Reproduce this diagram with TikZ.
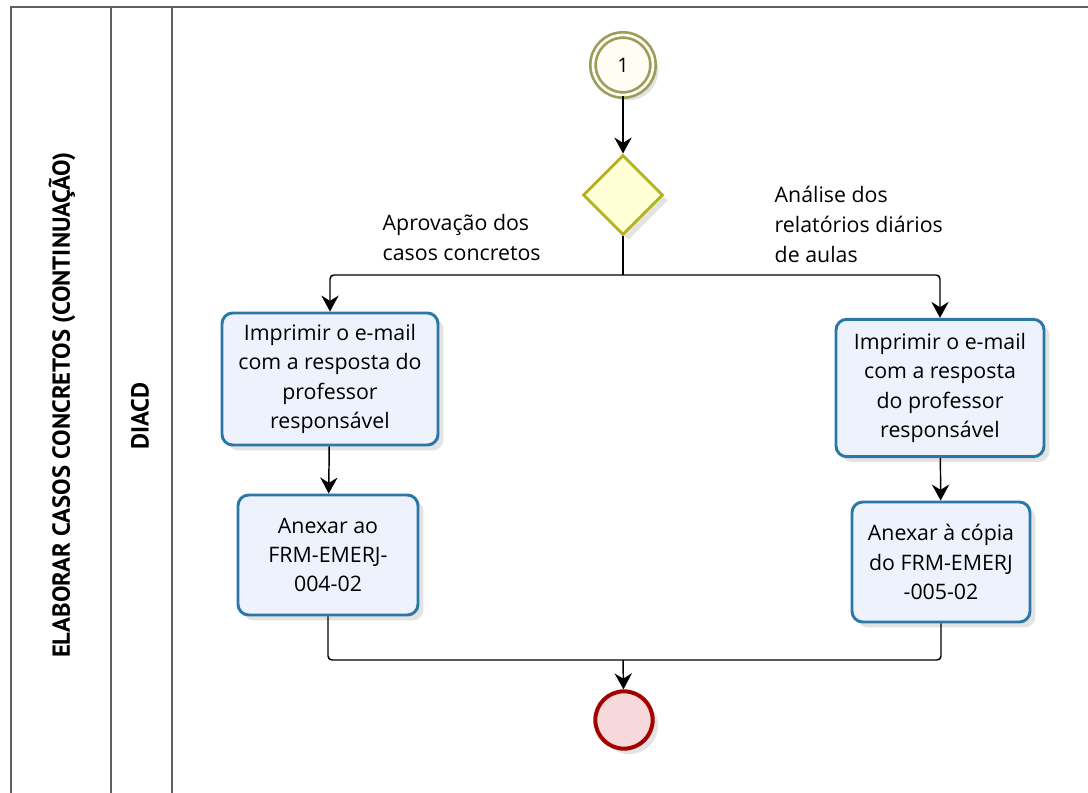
\documentclass[tikz,border=0pt]{standalone}
\usepackage{fontspec}
\setmainfont{Open Sans}
\newfontfamily\lanefont{PT Sans}
\usetikzlibrary{arrows.meta,shadows,shapes.geometric}
\definecolor{taskblue}{HTML}{2B78A6}
\definecolor{taskfill}{HTML}{EEF2FC}
\definecolor{gwline}{HTML}{B3B320}
\definecolor{gwfill}{HTML}{FFFFD6}
\definecolor{evline}{HTML}{9C9C5C}
\definecolor{evfill}{HTML}{FFFDF4}
\definecolor{endline}{HTML}{A30000}
\definecolor{endfill}{HTML}{F7D9DB}
\definecolor{laneline}{HTML}{606060}
\begin{document}
\begin{tikzpicture}[x=0.75pt,y=-0.75pt,
  shadowed/.style={drop shadow={opacity=0.22,shadow xshift=4pt,shadow yshift=-4pt}},
  task/.style={draw=taskblue,line width=2.2pt,rounded corners=8pt,fill=taskfill,align=center,
     font=\fontsize{16}{22}\selectfont,inner sep=2pt,shadowed},
  gateway/.style={diamond,draw=gwline,line width=2.2pt,fill=gwfill,minimum width=60pt,minimum height=60pt,inner sep=0pt,shadowed},
  startev/.style={circle,draw=evline,line width=2pt,fill=evfill,minimum size=45pt,inner sep=0pt,double=evfill,double distance=2pt,shadowed},
  endev/.style={circle,draw=endline,line width=3pt,fill=endfill,minimum size=43pt,inner sep=0pt,shadowed},
  flow/.style={line width=1.1pt,black,rounded corners=3pt},
  arr/.style={flow,-{Stealth[length=12pt,width=13pt,inset=4pt]}},
  lbl/.style={align=left,anchor=north west,font=\fontsize{16}{22.5}\selectfont},
  lane/.style={draw=laneline,line width=1.4pt}
]
\useasboundingbox (0,0) rectangle (1088,792);
% lanes
\draw[lane] (11,800) -- (11,7) -- (1095,7);
\draw[lane] (111,7) -- (111,800);
\draw[lane] (172,7) -- (172,800);
\node[rotate=90,font=\lanefont\fontsize{18.5}{20}\bfseries] (pool) at (62,405) {ELABORAR CASOS CONCRETOS (CONTINUAÇÃO)};
\node[rotate=90,font=\lanefont\fontsize{18.5}{20}\bfseries] (lanename) at (140,416) {DIACD};
% events and gateway
\node[startev] (s) at (623,65) {\fontsize{15}{16}\selectfont 1};
\node[gateway] (g) at (623,195) {};
\node[endev] (e) at (624,720) {};
% tasks
\node[task,minimum width=162pt,minimum height=99pt] (t1l) at (330,379) {Imprimir o e-mail\\com a resposta do\\professor\\responsável};
\node[task,minimum width=135pt,minimum height=90pt] (t2l) at (328,555) {Anexar ao\\FRM-EMERJ-\\004-02};
\node[task,minimum width=156pt,minimum height=103pt] (t1r) at (940,388) {Imprimir o e-mail\\com a resposta\\do professor\\responsável};
\node[task,minimum width=133.5pt,minimum height=90pt] (t2r) at (941,562) {Anexar à cópia\\do FRM-EMERJ\\-005-02};
% labels
\node[lbl] (la) at (378,210) {Aprovação dos\\casos concretos};
\node[lbl] (lb) at (770,181) {Análise dos\\relatórios diários\\de aulas};
% connectors
\coordinate (j1) at (623,275);
\coordinate (j2) at (623,660);
\draw[arr] (s) -- (g);
\draw[flow] (g.south) -- (j1);
\draw[arr] (j1) -| (t1l.north);
\draw[arr] (j1) -| (t1r.north);
\draw[arr] (t1l) -- (t2l);
\draw[arr] (t1r) -- (t2r);
\draw[flow] (t2l.south) |- (j2);
\draw[flow] (t2r.south) |- (j2);
\draw[arr] (j2) -- (e);
\end{tikzpicture}
\end{document}
